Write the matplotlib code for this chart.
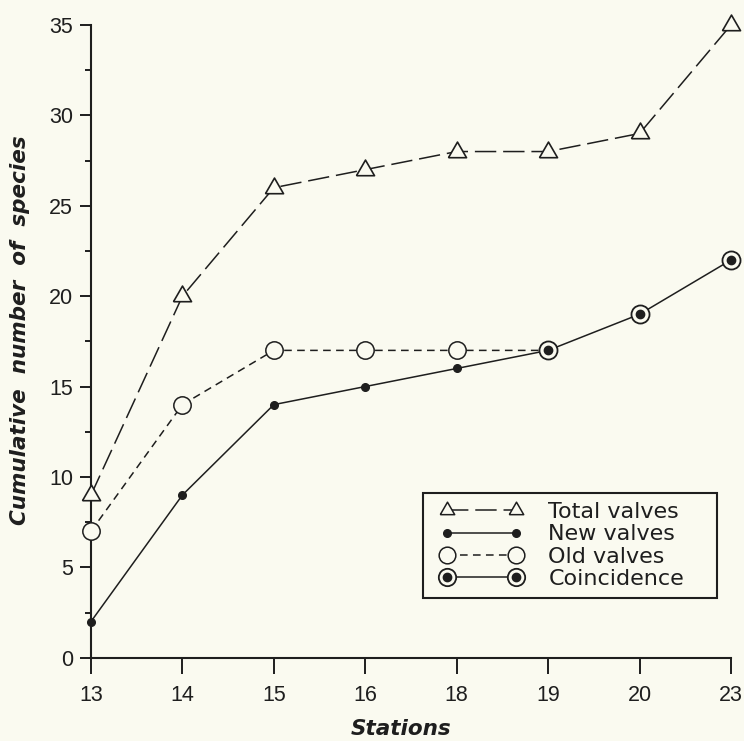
import matplotlib
matplotlib.use("Agg")
import matplotlib.pyplot as plt
import numpy as np
from matplotlib.lines import Line2D
from matplotlib.legend_handler import HandlerLine2D

# ---- data ----
stations = ["13", "14", "15", "16", "18", "19", "20", "23"]
total_valves = [9, 20, 26, 27, 28, 28, 29, 35]
new_valves = [2, 9, 14, 15, 16, 17, 19, 22]
old_valves = [7, 14, 17, 17, 17, 17, 19, 22]
y_ticks = [0, 5, 10, 15, 20, 25, 30, 35]

BG = "#fafaf0"
INK = "#1e1e1e"

plt.rcParams["font.family"] = ["Liberation Sans", "DejaVu Sans"]

fig = plt.figure(figsize=(7.44, 7.41), dpi=100, facecolor=BG)
ax = fig.add_axes([91 / 744, 1 - 657.7 / 741, 640 / 744, (657.7 - 25) / 741])
ax.set_facecolor(BG)

x = np.arange(len(stations))
new = np.array(new_valves)
old = np.array(old_valves)
coinc = new == old
first_c = int(np.argmax(coinc))

# triangle marker centred on its centroid
tri = [(-1, -0.577), (1, -0.577), (0, 1.155), (-1, -0.577)]
TOT_DASH = (14, 4.5)
OLD_DASH = (5, 3.5)

# Total valves
ax.plot(x, total_valves, color=INK, lw=1.1, dashes=TOT_DASH, marker=tri,
        ms=15, mfc=BG, mec=INK, mew=1.2, clip_on=False, zorder=3)

# New valves (solid) – full line, dots only where not coincident
ax.plot(x, new, color=INK, lw=1.1, zorder=2, clip_on=False)
ax.plot(x[~coinc], new[~coinc], ls="none", marker="o", ms=5.5, mfc=INK, mec=INK,
        clip_on=False, zorder=4)

# Old valves (dashed) up to first coincidence
ax.plot(x[: first_c + 1], old[: first_c + 1], color=INK, lw=1.1, dashes=OLD_DASH,
        zorder=2, clip_on=False)
ax.plot(x[~coinc], old[~coinc], ls="none", marker="o", ms=12.5, mfc=BG, mec=INK,
        mew=1.1, clip_on=False, zorder=4)

# Coincidence
ax.plot(x[coinc], new[coinc], ls="none", marker="o", ms=13, mfc=BG, mec=INK,
        mew=1.3, clip_on=False, zorder=5)
ax.plot(x[coinc], new[coinc], ls="none", marker="o", ms=6, mfc=INK, mec=INK,
        clip_on=False, zorder=6)

# Legend proxies
h_total = Line2D([], [], color=INK, lw=1.1, dashes=TOT_DASH, marker=tri, ms=12,
                 mfc=BG, mec=INK, mew=1.1)
h_new = Line2D([], [], color=INK, lw=1.1, marker="o", ms=5.5, mfc=INK, mec=INK)
h_old = Line2D([], [], color=INK, lw=1.1, dashes=OLD_DASH, marker="o", ms=12,
               mfc=BG, mec=INK, mew=1.1)
h_co1 = Line2D([], [], color=INK, lw=1.1, marker="o", ms=12.5, mfc=BG, mec=INK, mew=1.3)
h_co2 = Line2D([], [], ls="none", marker="o", ms=6, mfc=INK, mec=INK)
leg = fig.legend([h_total, h_new, h_old, (h_co1, h_co2)],
                 ["Total valves", "New valves", "Old valves", "Coincidence"],
                 loc="upper left",
                 bbox_to_anchor=(423 / 744, 1 - 602 / 741, (717 - 423) / 744, 109 / 741),
                 mode="expand",
                 borderaxespad=0, numpoints=2, handlelength=4.47, handletextpad=0.77,
                 labelspacing=0.11, borderpad=0.4, frameon=True, fancybox=False,
                 facecolor=BG, edgecolor=INK, framealpha=1,
                 prop={"family": "DejaVu Sans", "size": 16},
                 handler_map={Line2D: HandlerLine2D(marker_pad=0.68)})
leg.get_frame().set_linewidth(1.5)
leg.set_zorder(10)
for t in leg.get_texts():
    t.set_color(INK)

# Axes styling
ax.set_xlim(0, len(stations) - 1)
ax.set_ylim(0, 35)
for s in ["top", "right"]:
    ax.spines[s].set_visible(False)
for s in ["left", "bottom"]:
    ax.spines[s].set_linewidth(1.5)
    ax.spines[s].set_color(INK)

ax.set_xticks(x)
ax.set_xticklabels(stations)
ax.set_yticks(y_ticks)
ax.set_yticks(np.arange(2.5, 35, 5), minor=True)
ax.tick_params(axis="x", direction="out", length=11.5, width=1.4, pad=8,
               labelsize=15.5, colors=INK)
ax.tick_params(axis="y", which="major", direction="out", length=8, width=1.4, pad=5,
               labelsize=15.5, colors=INK)
ax.tick_params(axis="y", which="minor", direction="out", length=4.5, width=1.4,
               colors=INK)

ax.set_ylabel("Cumulative  number  of  species", fontsize=15.5, fontweight="bold",
              fontstyle="italic", family="DejaVu Sans", color=INK)
ax.yaxis.label.set_va("center")
ax.yaxis.set_label_coords(-(91 - 20) / 640, (657.7 - 330) / (657.7 - 25))
fig.text(401 / 744, 1 - 729 / 741, "Stations", ha="center", va="center",
         fontsize=15.5, fontweight="bold", fontstyle="italic", family="DejaVu Sans",
         color=INK)

fig.savefig("out.png", dpi=100, facecolor=BG)
